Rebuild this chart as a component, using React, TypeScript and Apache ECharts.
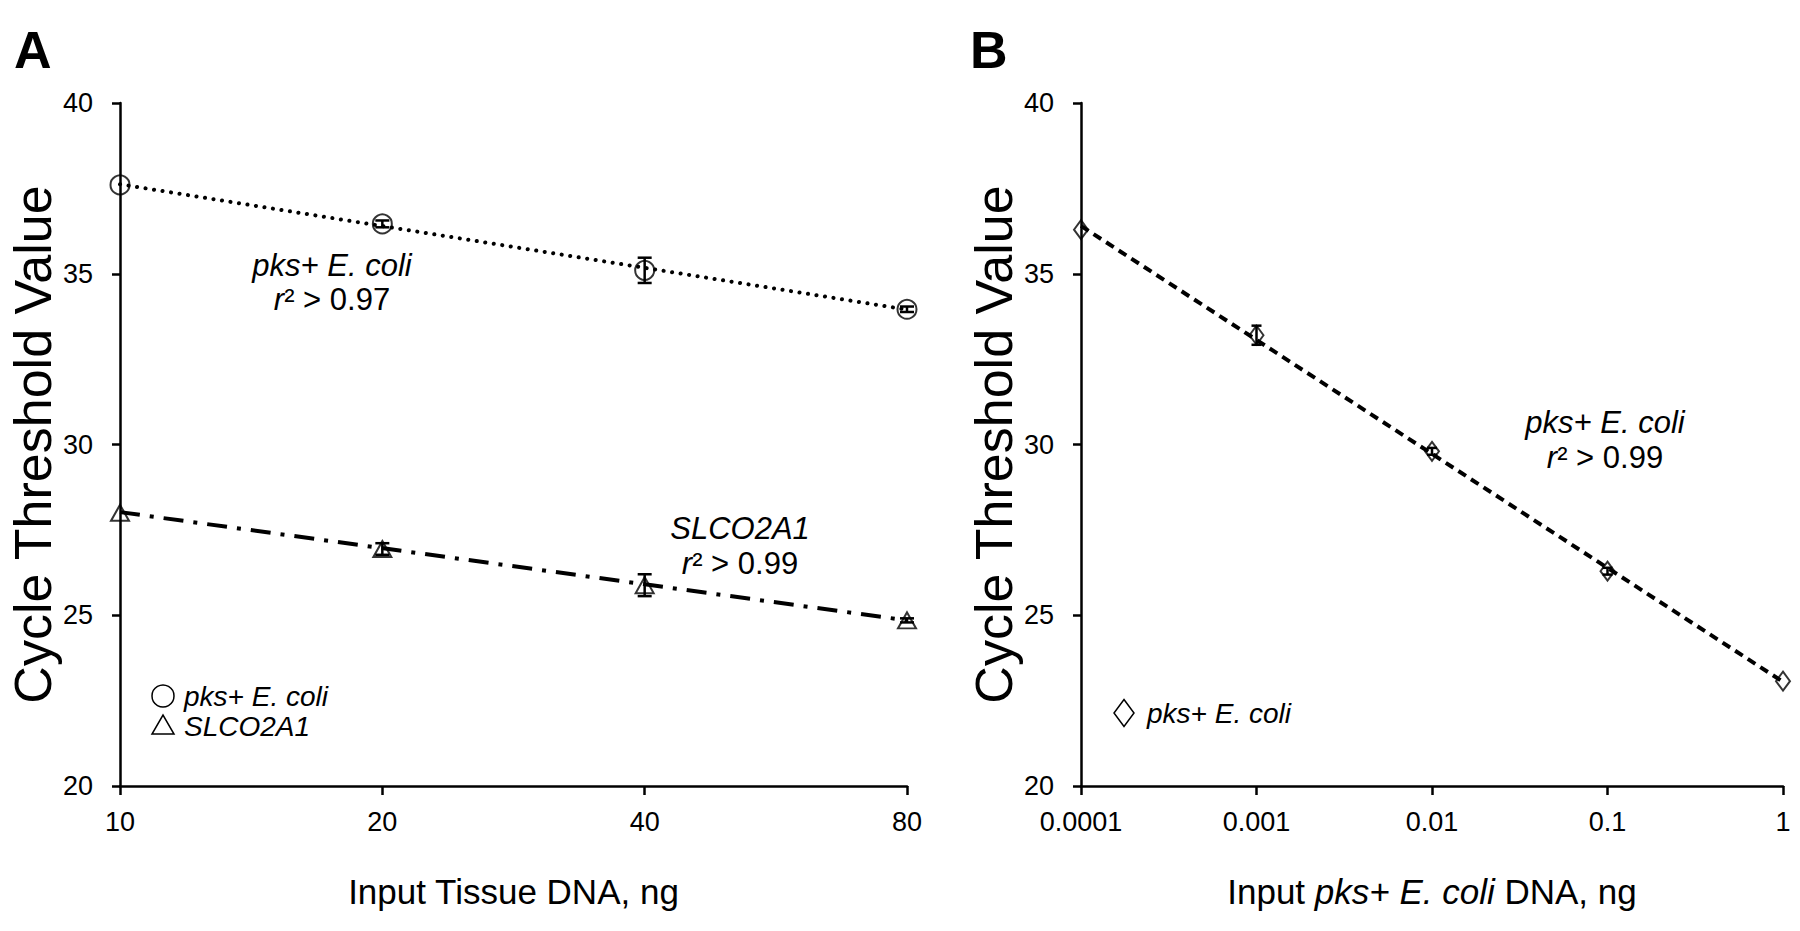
import React, { useEffect, useRef } from "react";
import * as echarts from "echarts";

// ---------- data ----------
const catA = ["10", "20", "40", "80"];
const pksA = [37.6, 36.46, 35.1, 33.96];
const pksAErr = [0, 0.1, 0.37, 0.08];
const slcoA = [28.0, 26.94, 25.88, 24.85];
const slcoAErr = [0, 0.17, 0.32, 0.06];
const pksATrend = [37.62, 33.95]; // trendline value at first / last category
const slcoATrend = [28.02, 24.85];

const catB = ["0.0001", "0.001", "0.01", "0.1", "1"];
const pksB = [36.29, 33.2, 29.8, 26.29, 23.07];
const pksBErr = [0, 0.28, 0.1, 0.1, 0];
const pksBTrend = [36.4, 23.05];

const yTicks = [20, 25, 30, 35, 40];

const FONT = "'Liberation Sans', Arial, Helvetica, sans-serif";
const BLACK = "#000";

function errData(vals: number[], errs: number[]) {
  return vals
    .map((v, i) => [i, v - errs[i], v + errs[i]])
    .filter((d, i) => errs[i] > 0);
}

function errorBarSeries(xAxisIndex: number, data: number[][], capHalf: number) {
  return {
    type: "custom",
    xAxisIndex,
    yAxisIndex: xAxisIndex,
    silent: true,
    z: 2,
    encode: { x: 0, y: [1, 2] },
    data,
    renderItem: (params: any, api: any) => {
      const x = api.value(0);
      const lo = api.value(1);
      const hi = api.value(2);
      const p1 = api.coord([x, hi]);
      const p2 = api.coord([x, lo]);
      const w = capHalf;
      const st = { stroke: BLACK, lineWidth: 2.5 };
      return {
        type: "group",
        children: [
          { type: "line", shape: { x1: p1[0], y1: p1[1], x2: p2[0], y2: p2[1] }, style: st },
          { type: "line", shape: { x1: p1[0] - w, y1: p1[1], x2: p1[0] + w, y2: p1[1] }, style: st },
          { type: "line", shape: { x1: p2[0] - w, y1: p2[1], x2: p2[0] + w, y2: p2[1] }, style: st },
        ],
      };
    },
  };
}

function valueAxis(gridIndex: number) {
  return {
    type: "value",
    gridIndex,
    min: yTicks[0],
    max: yTicks[yTicks.length - 1],
    interval: 5,
    name: "Cycle Threshold Value",
    nameLocation: "middle",
    nameGap: 52,
    nameTextStyle: { fontFamily: FONT, fontSize: 52, color: BLACK },
    axisLine: { show: true, lineStyle: { color: BLACK, width: 2.5 } },
    axisTick: { show: true, inside: false, length: 8, lineStyle: { color: BLACK, width: 2.5 } },
    axisLabel: { fontFamily: FONT, fontSize: 27, color: BLACK, margin: 27 },
    splitLine: { show: false },
  };
}

function catAxis(gridIndex: number, data: string[], name: string, fontSize: number, rich?: any) {
  return {
    type: "category",
    gridIndex,
    data,
    boundaryGap: false,
    name,
    nameLocation: "middle",
    nameGap: 88,
    nameTextStyle: { fontFamily: FONT, fontSize, color: BLACK, rich },
    axisLine: { show: true, lineStyle: { color: BLACK, width: 2.5 } },
    axisTick: { show: true, inside: false, length: 9, alignWithLabel: true, lineStyle: { color: BLACK, width: 2.5 } },
    axisLabel: { fontFamily: FONT, fontSize: 27, color: BLACK, margin: 22 },
    splitLine: { show: false },
  };
}

const hollow = { color: "rgba(255,255,255,0)", borderColor: BLACK, borderWidth: 2 };

export default function App() {
  const ref = useRef<HTMLDivElement>(null);
  useEffect(() => {
    if (!ref.current) return;
    const chart = echarts.init(ref.current, null, { renderer: "svg" });
    const italic = { fontFamily: FONT, fontStyle: "italic", color: BLACK };
    const richAnn = {
      i: { ...italic, fontSize: 31 },
      n: { fontFamily: FONT, fontSize: 31, color: BLACK },
    };
    const annStyle = (text: string) => ({
      text, fontFamily: FONT, fontSize: 31, fontStyle: "italic", fill: BLACK, align: "center", verticalAlign: "middle",
    });
    const legStyle = (text: string) => ({
      text, fontFamily: FONT, fontSize: 28, fontStyle: "italic", fill: BLACK, align: "left", verticalAlign: "middle",
    });
    const option: any = {
      animation: false,
      backgroundColor: "#fff",
      textStyle: { fontFamily: FONT },
      grid: [
        { left: 120, top: 103, width: 787, height: 683, containLabel: false },
        { left: 1081, top: 103, width: 702, height: 683, containLabel: false },
      ],
      xAxis: [
        catAxis(0, catA, "Input Tissue DNA, ng", 35),
        catAxis(1, catB, "{n|Input }{i|pks+ E. coli}{n| DNA, ng}", 35, {
          n: { fontFamily: FONT, fontSize: 35, color: BLACK },
          i: { fontFamily: FONT, fontSize: 35, fontStyle: "italic", color: BLACK },
        }),
      ],
      yAxis: [valueAxis(0), valueAxis(1)],
      series: [
        // ---- Panel A ----
        errorBarSeries(0, errData(pksA, pksAErr), 7),
        errorBarSeries(0, errData(slcoA, slcoAErr), 7),
        {
          type: "line",
          name: "pks+ E. coli trend",
          xAxisIndex: 0,
          yAxisIndex: 0,
          data: [[catA[0], pksATrend[0]], [catA[catA.length - 1], pksATrend[1]]],
          showSymbol: false,
          symbol: "none",
          silent: true,
          z: 1,
          lineStyle: { color: BLACK, width: 4, type: [0.1, 8.5], cap: "round" },
        },
        {
          type: "line",
          name: "SLCO2A1 trend",
          xAxisIndex: 0,
          yAxisIndex: 0,
          data: [[catA[0], slcoATrend[0]], [catA[catA.length - 1], slcoATrend[1]]],
          showSymbol: false,
          symbol: "none",
          silent: true,
          z: 1,
          lineStyle: { color: BLACK, width: 4, type: [20, 10, 4, 10] },
        },
        {
          type: "scatter",
          name: "pks+ E. coli",
          xAxisIndex: 0,
          yAxisIndex: 0,
          data: pksA.map((v, i) => [catA[i], v]),
          symbol: "circle",
          symbolSize: 19,
          clip: false,
          z: 3,
          itemStyle: hollow,
        },
        {
          type: "scatter",
          name: "SLCO2A1",
          xAxisIndex: 0,
          yAxisIndex: 0,
          data: slcoA.map((v, i) => [catA[i], v]),
          symbol: "triangle",
          symbolSize: [18, 16],
          clip: false,
          z: 3,
          itemStyle: hollow,
        },
        // ---- Panel B ----
        errorBarSeries(1, errData(pksB, pksBErr), 5),
        {
          type: "line",
          name: "pks+ E. coli trend B",
          xAxisIndex: 1,
          yAxisIndex: 1,
          data: [[catB[0], pksBTrend[0]], [catB[catB.length - 1], pksBTrend[1]]],
          showSymbol: false,
          symbol: "none",
          silent: true,
          z: 1,
          lineStyle: { color: BLACK, width: 4, type: [9, 6] },
        },
        {
          type: "scatter",
          name: "pks+ E. coli B",
          xAxisIndex: 1,
          yAxisIndex: 1,
          data: pksB.map((v, i) => [catB[i], v]),
          symbol: "diamond",
          symbolSize: [14, 19],
          clip: false,
          z: 3,
          itemStyle: hollow,
        },
      ],
      graphic: [
        // panel letters
        { type: "text", left: 14, top: 24, style: { text: "A", font: `bold 52px ${FONT}`, fill: BLACK } },
        { type: "text", left: 970, top: 24, style: { text: "B", font: `bold 52px ${FONT}`, fill: BLACK } },
        // annotations A
        { type: "text", x: 332, y: 265, style: annStyle("pks+ E. coli") },
        { type: "text", x: 332, y: 299, style: { text: "{i|r}{n|² > 0.97}", rich: richAnn, align: "center", verticalAlign: "middle" } },
        { type: "text", x: 740, y: 528, style: annStyle("SLCO2A1") },
        { type: "text", x: 740, y: 563, style: { text: "{i|r}{n|² > 0.99}", rich: richAnn, align: "center", verticalAlign: "middle" } },
        // annotation B
        { type: "text", x: 1605, y: 422, style: annStyle("pks+ E. coli") },
        { type: "text", x: 1605, y: 457, style: { text: "{i|r}{n|² > 0.99}", rich: richAnn, align: "center", verticalAlign: "middle" } },
        // legend A
        { type: "circle", shape: { cx: 163, cy: 696, r: 11 }, style: { fill: "none", stroke: BLACK, lineWidth: 1.5 } },
        { type: "polygon", shape: { points: [[152, 734], [174, 734], [163, 715]] }, style: { fill: "none", stroke: BLACK, lineWidth: 1.5 } },
        { type: "text", x: 184, y: 696, style: legStyle("pks+ E. coli") },
        { type: "text", x: 184, y: 726, style: legStyle("SLCO2A1") },
        // legend B
        {
          type: "polygon",
          shape: { points: [[1124, 699.5], [1134, 713], [1124, 726.5], [1114, 713]] },
          style: { fill: "none", stroke: BLACK, lineWidth: 1.5 },
        },
        { type: "text", x: 1147, y: 713, style: legStyle("pks+ E. coli") },
      ],
    };
    chart.setOption(option);
    return () => chart.dispose();
  }, []);
  return (
    <div
      ref={ref}
      style={{ position: "fixed", left: 0, top: 0, width: 1800, height: 931, background: "#fff" }}
    />
  );
}
